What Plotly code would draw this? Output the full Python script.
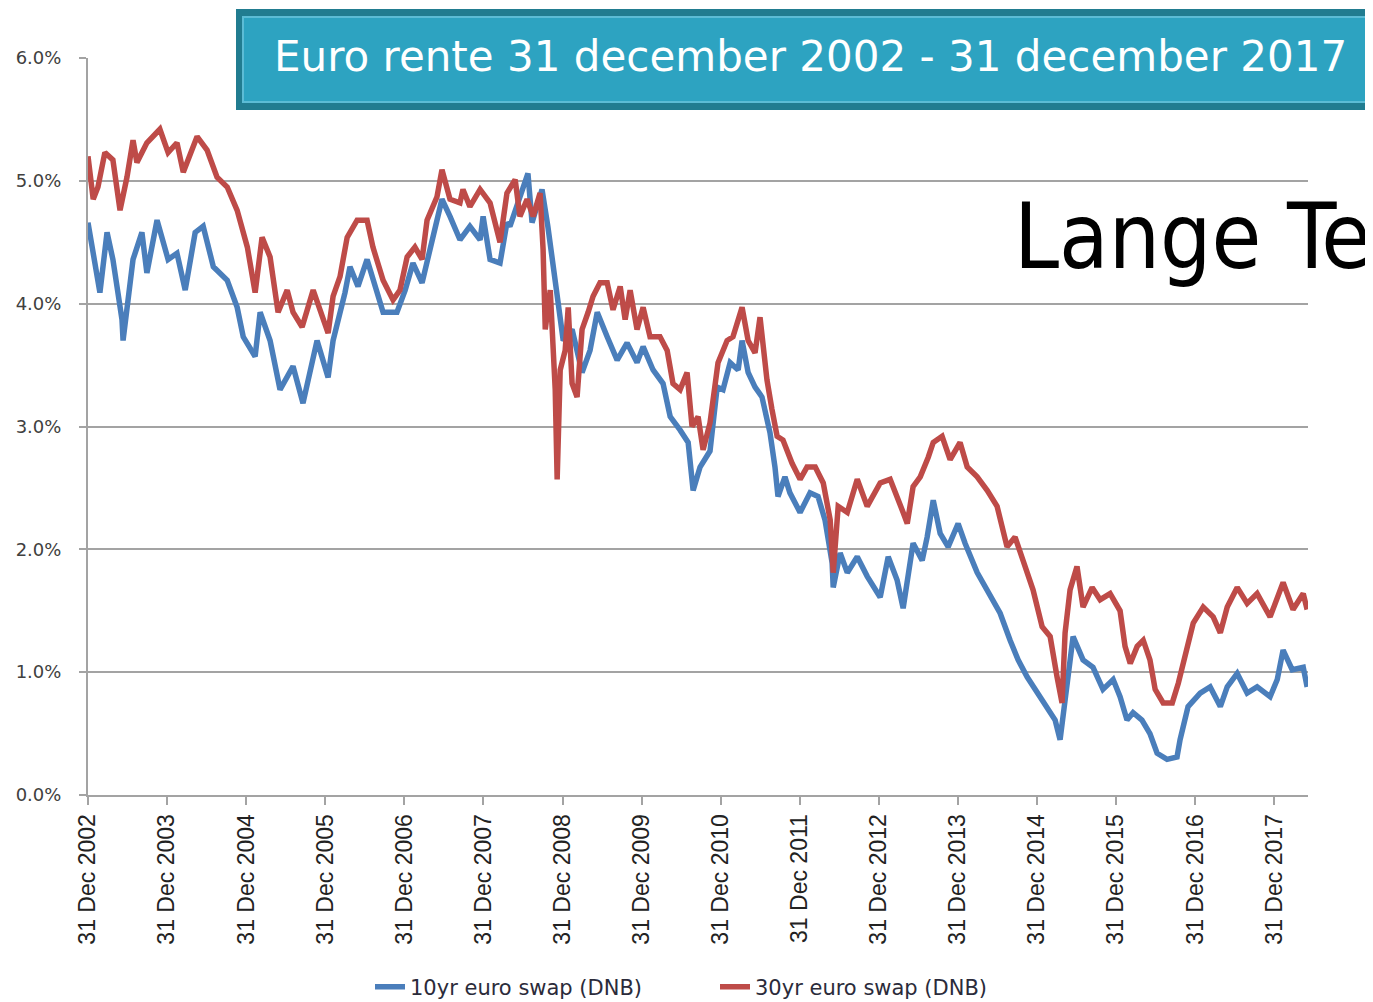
import plotly.graph_objects as go

# ---------------- data (in %) ----------------
dates_10y = [
    "2002-12-31", "2003-02-24", "2003-03-29", "2003-04-25", "2003-06-06", "2003-06-11",
    "2003-07-27", "2003-09-06", "2003-09-29", "2003-11-15", "2004-01-05", "2004-02-15",
    "2004-03-24", "2004-05-09", "2004-06-15", "2004-08-01", "2004-10-04", "2004-11-19",
    "2004-12-17", "2005-02-10", "2005-03-05", "2005-04-20", "2005-06-05", "2005-08-04",
    "2005-09-19", "2005-11-23", "2006-01-13", "2006-02-05", "2006-04-01", "2006-04-24",
    "2006-05-31", "2006-07-12", "2006-09-24", "2006-11-27", "2007-01-04", "2007-02-09",
    "2007-03-23", "2007-04-29", "2007-06-23", "2007-07-30", "2007-09-14", "2007-10-30",
    "2007-12-16", "2007-12-30", "2008-01-31", "2008-03-17", "2008-04-18", "2008-05-02",
    "2008-06-17", "2008-07-24", "2008-08-12", "2008-09-27", "2008-10-24", "2008-11-16",
    "2008-12-10", "2009-01-03", "2009-02-13", "2009-03-31", "2009-05-07", "2009-06-09",
    "2009-07-25", "2009-09-09", "2009-10-25", "2009-12-10", "2010-01-07", "2010-02-22",
    "2010-04-09", "2010-05-12", "2010-06-27", "2010-08-03", "2010-08-26", "2010-09-27",
    "2010-11-12", "2010-12-15", "2011-01-11", "2011-02-13", "2011-03-22", "2011-04-09",
    "2011-05-07", "2011-06-08", "2011-07-10", "2011-08-16", "2011-09-08", "2011-09-22",
    "2011-10-24", "2011-11-16", "2012-01-02", "2012-02-17", "2012-03-25", "2012-04-26",
    "2012-05-29", "2012-06-03", "2012-07-05", "2012-08-07", "2012-09-22", "2012-11-07",
    "2013-01-06", "2013-02-12", "2013-03-25", "2013-04-22", "2013-06-07", "2013-07-19",
    "2013-08-11", "2013-09-08", "2013-10-10", "2013-11-16", "2014-01-01", "2014-02-02",
    "2014-03-30", "2014-05-29", "2014-07-14", "2014-08-29", "2014-10-05", "2014-11-16",
    "2015-01-01", "2015-02-16", "2015-03-25", "2015-04-17", "2015-05-19", "2015-06-16",
    "2015-08-01", "2015-09-16", "2015-11-01", "2015-12-18", "2016-01-19", "2016-02-20",
    "2016-03-19", "2016-04-29", "2016-06-05", "2016-07-08", "2016-08-23", "2016-10-08",
    "2016-10-22", "2016-11-28", "2017-01-23", "2017-03-10", "2017-04-26", "2017-05-28",
    "2017-07-13", "2017-08-28", "2017-10-13", "2017-12-12", "2018-01-14", "2018-02-10",
    "2018-03-24", "2018-05-14", "2018-06-01",
]
swap_10y = [
    4.66, 4.09, 4.58, 4.36, 3.87, 3.70,
    4.36, 4.58, 4.25, 4.68, 4.36, 4.41,
    4.11, 4.58, 4.63, 4.30, 4.19, 3.97,
    3.73, 3.57, 3.93, 3.70, 3.30, 3.49,
    3.19, 3.70, 3.40, 3.70, 4.09, 4.30,
    4.14, 4.36, 3.93, 3.93, 4.11, 4.33,
    4.17, 4.44, 4.85, 4.71, 4.52, 4.63,
    4.52, 4.71, 4.36, 4.33, 4.66, 4.63,
    4.87, 5.06, 4.66, 4.93, 4.63, 4.30,
    4.03, 3.70, 3.79, 3.44, 3.62, 3.93,
    3.73, 3.54, 3.68, 3.52, 3.65, 3.46,
    3.35, 3.08, 2.97, 2.87, 2.48, 2.67,
    2.80, 3.32, 3.30, 3.52, 3.46, 3.70,
    3.44, 3.32, 3.24, 2.95, 2.67, 2.43,
    2.59, 2.46, 2.30, 2.46, 2.43, 2.24,
    1.89, 1.69, 1.97, 1.81, 1.94, 1.78,
    1.61, 1.94, 1.75, 1.52, 2.05, 1.91,
    2.10, 2.40, 2.13, 2.02, 2.21, 2.05,
    1.81, 1.61, 1.48, 1.26, 1.10, 0.96,
    0.83, 0.72, 0.61, 0.45, 0.86, 1.29,
    1.10, 1.04, 0.86, 0.94, 0.80, 0.61,
    0.67, 0.61, 0.50, 0.34, 0.29, 0.31,
    0.45, 0.72, 0.83, 0.88, 0.72, 0.88,
    0.99, 0.83, 0.88, 0.80, 0.94, 1.18,
    1.02, 1.04, 0.88,
]

dates_30y = [
    "2002-12-31", "2003-01-24", "2003-02-15", "2003-03-19", "2003-04-25", "2003-05-28",
    "2003-06-29", "2003-07-27", "2003-08-14", "2003-09-29", "2003-11-28", "2004-01-05",
    "2004-02-15", "2004-03-15", "2004-05-18", "2004-07-03", "2004-08-18", "2004-10-04",
    "2004-11-19", "2004-12-17", "2005-01-05", "2005-02-10", "2005-03-14", "2005-04-20",
    "2005-05-27", "2005-07-08", "2005-08-04", "2005-09-15", "2005-11-05", "2006-01-13",
    "2006-02-05", "2006-03-09", "2006-04-11", "2006-05-27", "2006-07-12", "2006-08-08",
    "2006-09-24", "2006-11-09", "2006-12-11", "2007-01-13", "2007-02-18", "2007-03-23",
    "2007-04-15", "2007-05-31", "2007-06-23", "2007-07-30", "2007-09-14", "2007-09-28",
    "2007-10-30", "2007-12-16", "2008-01-31", "2008-03-17", "2008-04-18", "2008-05-26",
    "2008-06-17", "2008-07-20", "2008-08-17", "2008-09-18", "2008-10-02", "2008-10-12",
    "2008-11-04", "2008-11-27", "2008-12-06", "2008-12-20", "2009-01-12", "2009-01-26",
    "2009-02-13", "2009-03-08", "2009-03-31", "2009-04-28", "2009-05-21", "2009-06-22",
    "2009-07-25", "2009-08-21", "2009-09-23", "2009-10-16", "2009-11-08", "2009-12-10",
    "2010-01-07", "2010-02-08", "2010-03-26", "2010-04-28", "2010-05-25", "2010-06-27",
    "2010-07-29", "2010-08-21", "2010-09-18", "2010-10-11", "2010-11-12", "2010-12-19",
    "2011-01-30", "2011-02-26", "2011-04-09", "2011-05-07", "2011-06-08", "2011-07-01",
    "2011-08-02", "2011-08-25", "2011-09-18", "2011-10-15", "2011-11-26", "2012-01-02",
    "2012-02-03", "2012-03-12", "2012-04-18", "2012-05-20", "2012-06-03", "2012-06-26",
    "2012-08-07", "2012-09-22", "2012-11-07", "2013-01-06", "2013-02-21", "2013-04-22",
    "2013-05-11", "2013-06-07", "2013-07-10", "2013-08-16", "2013-09-08", "2013-10-19",
    "2013-11-25", "2014-01-10", "2014-02-12", "2014-03-30", "2014-05-15", "2014-06-30",
    "2014-08-15", "2014-09-21", "2014-10-28", "2014-12-13", "2015-01-24", "2015-03-02",
    "2015-04-03", "2015-04-26", "2015-05-10", "2015-06-02", "2015-07-04", "2015-08-01",
    "2015-09-12", "2015-10-19", "2015-12-04", "2016-01-19", "2016-02-11", "2016-03-06",
    "2016-04-07", "2016-05-05", "2016-06-05", "2016-06-29", "2016-08-05", "2016-09-16",
    "2016-10-14", "2016-11-24", "2016-12-22", "2017-02-06", "2017-03-24", "2017-04-26",
    "2017-05-28", "2017-07-13", "2017-08-28", "2017-10-13", "2017-12-12", "2018-02-10",
    "2018-03-28", "2018-05-14", "2018-06-01",
]
swap_30y = [
    5.20, 4.85, 4.95, 5.23, 5.17, 4.76,
    5.03, 5.33, 5.15, 5.31, 5.42, 5.23,
    5.31, 5.07, 5.36, 5.25, 5.03, 4.95,
    4.76, 4.60, 4.46, 4.09, 4.54, 4.38,
    3.93, 4.11, 3.93, 3.81, 4.11, 3.76,
    4.06, 4.22, 4.54, 4.68, 4.68, 4.46,
    4.19, 4.03, 4.11, 4.38, 4.46, 4.36,
    4.68, 4.87, 5.09, 4.85, 4.82, 4.93,
    4.79, 4.93, 4.82, 4.50, 4.90, 5.01,
    4.71, 4.85, 4.71, 4.90, 4.44, 3.79,
    4.11, 3.30, 2.57, 3.46, 3.62, 3.97,
    3.35, 3.24, 3.79, 3.93, 4.06, 4.17,
    4.17, 3.95, 4.14, 3.87, 4.11, 3.79,
    3.97, 3.73, 3.73, 3.62, 3.35, 3.30,
    3.44, 3.00, 3.08, 2.81, 3.03, 3.52,
    3.70, 3.73, 3.97, 3.70, 3.60, 3.89,
    3.38, 3.14, 2.92, 2.89, 2.70, 2.57,
    2.67, 2.67, 2.54, 2.24, 1.81, 2.35,
    2.30, 2.57, 2.35, 2.54, 2.57, 2.30,
    2.21, 2.51, 2.59, 2.75, 2.87, 2.92,
    2.73, 2.87, 2.67, 2.59, 2.48, 2.35,
    2.02, 2.10, 1.91, 1.67, 1.37, 1.29,
    0.96, 0.75, 1.32, 1.67, 1.86, 1.53,
    1.69, 1.59, 1.64, 1.50, 1.21, 1.07,
    1.21, 1.26, 1.10, 0.86, 0.75, 0.75,
    0.91, 1.18, 1.40, 1.53, 1.45, 1.32,
    1.53, 1.69, 1.56, 1.64, 1.45, 1.73,
    1.51, 1.64, 1.51,
]

tick_dates = ["%d-12-31" % y for y in range(2002, 2018)]
tick_labels = ["31 Dec %d" % y for y in range(2002, 2018)]
y_ticks = [0, 1, 2, 3, 4, 5, 6]
y_tick_labels = ["%.1f%%" % v for v in y_ticks]

title_text = "Euro rente 31 december 2002 - 31 december 2017"
side_text = "Lange Te"

BLUE = "#4a7ebb"
RED = "#be4b48"
GRID = "#a3a3a3"

fig = go.Figure()
fig.add_trace(go.Scatter(x=dates_10y, y=swap_10y, mode="lines",
                         name="10yr euro swap (DNB)",
                         line=dict(color=BLUE, width=5.5)))
fig.add_trace(go.Scatter(x=dates_30y, y=swap_30y, mode="lines",
                         name="30yr euro swap (DNB)",
                         line=dict(color=RED, width=5.5)))

# page body adds an 8 px offset; figure is sized so it fits the window exactly
OFF = 8
W, H = 1373 - OFF, 1002 - OFF
L, T = 88 - OFF, 58 - OFF
R = W - (1308 - OFF)
B = H - (795 - OFF)
pw, ph = W - L - R, H - T - B


def px(xw):  # window pixel -> paper x
    return (xw - OFF - L) / pw


def py(yw):  # window pixel -> paper y
    return (H - B - (yw - OFF)) / ph


fig.update_layout(
    width=W, height=H,
    margin=dict(l=L, r=R, t=T, b=B, pad=0, autoexpand=False),
    paper_bgcolor="white", plot_bgcolor="white",
    showlegend=True,
    legend=dict(orientation="h", x=px(370), xanchor="left",
                y=py(987), yanchor="middle",
                font=dict(family="DejaVu Sans", size=21, color="#2b2b3a"),
                itemwidth=30, tracegroupgap=0, entrywidth=300),
    xaxis=dict(
        type="date",
        range=["2002-12-31", "2018-06-05"],
        tickmode="array", tickvals=tick_dates, ticktext=tick_labels,
        tickangle=-90,
        tickfont=dict(family="Liberation Sans", size=23, color="#222222"),
        showgrid=False, zeroline=False,
        showline=True, linecolor=GRID, linewidth=2,
        ticks="outside", ticklen=8, tickwidth=2, tickcolor=GRID,
    ),
    yaxis=dict(
        range=[0, 6],
        tickmode="array", tickvals=y_ticks, ticktext=y_tick_labels,
        tickfont=dict(family="DejaVu Sans", size=18, color="#404040"),
        showgrid=True, gridcolor=GRID, gridwidth=2,
        zeroline=False,
        showline=True, linecolor=GRID, linewidth=2,
        ticks="outside", ticklen=7, tickwidth=2, tickcolor=GRID,
        ticklabelstandoff=14,
    ),
    shapes=[
        dict(type="rect", xref="paper", yref="paper",
             x0=px(236), x1=px(1390), y0=py(110), y1=py(9),
             fillcolor="#217c90", line=dict(width=0), layer="above"),
        dict(type="rect", xref="paper", yref="paper",
             x0=px(243), x1=px(1390), y0=py(102), y1=py(17),
             fillcolor="#2da3c1", line=dict(color="#5cbcd5", width=2), layer="above"),
    ],
    annotations=[
        dict(text=title_text, xref="paper", yref="paper",
             x=px(272), y=py(57), xanchor="left", yanchor="middle",
             showarrow=False,
             font=dict(family="DejaVu Sans", size=42, color="white")),
        dict(text=side_text, xref="paper", yref="paper",
             x=px(1012), y=py(236), xanchor="left", yanchor="middle",
             showarrow=False,
             font=dict(family="DejaVu Sans Condensed", size=90, color="black")),
    ],
)

fig.write_html("out.html")
